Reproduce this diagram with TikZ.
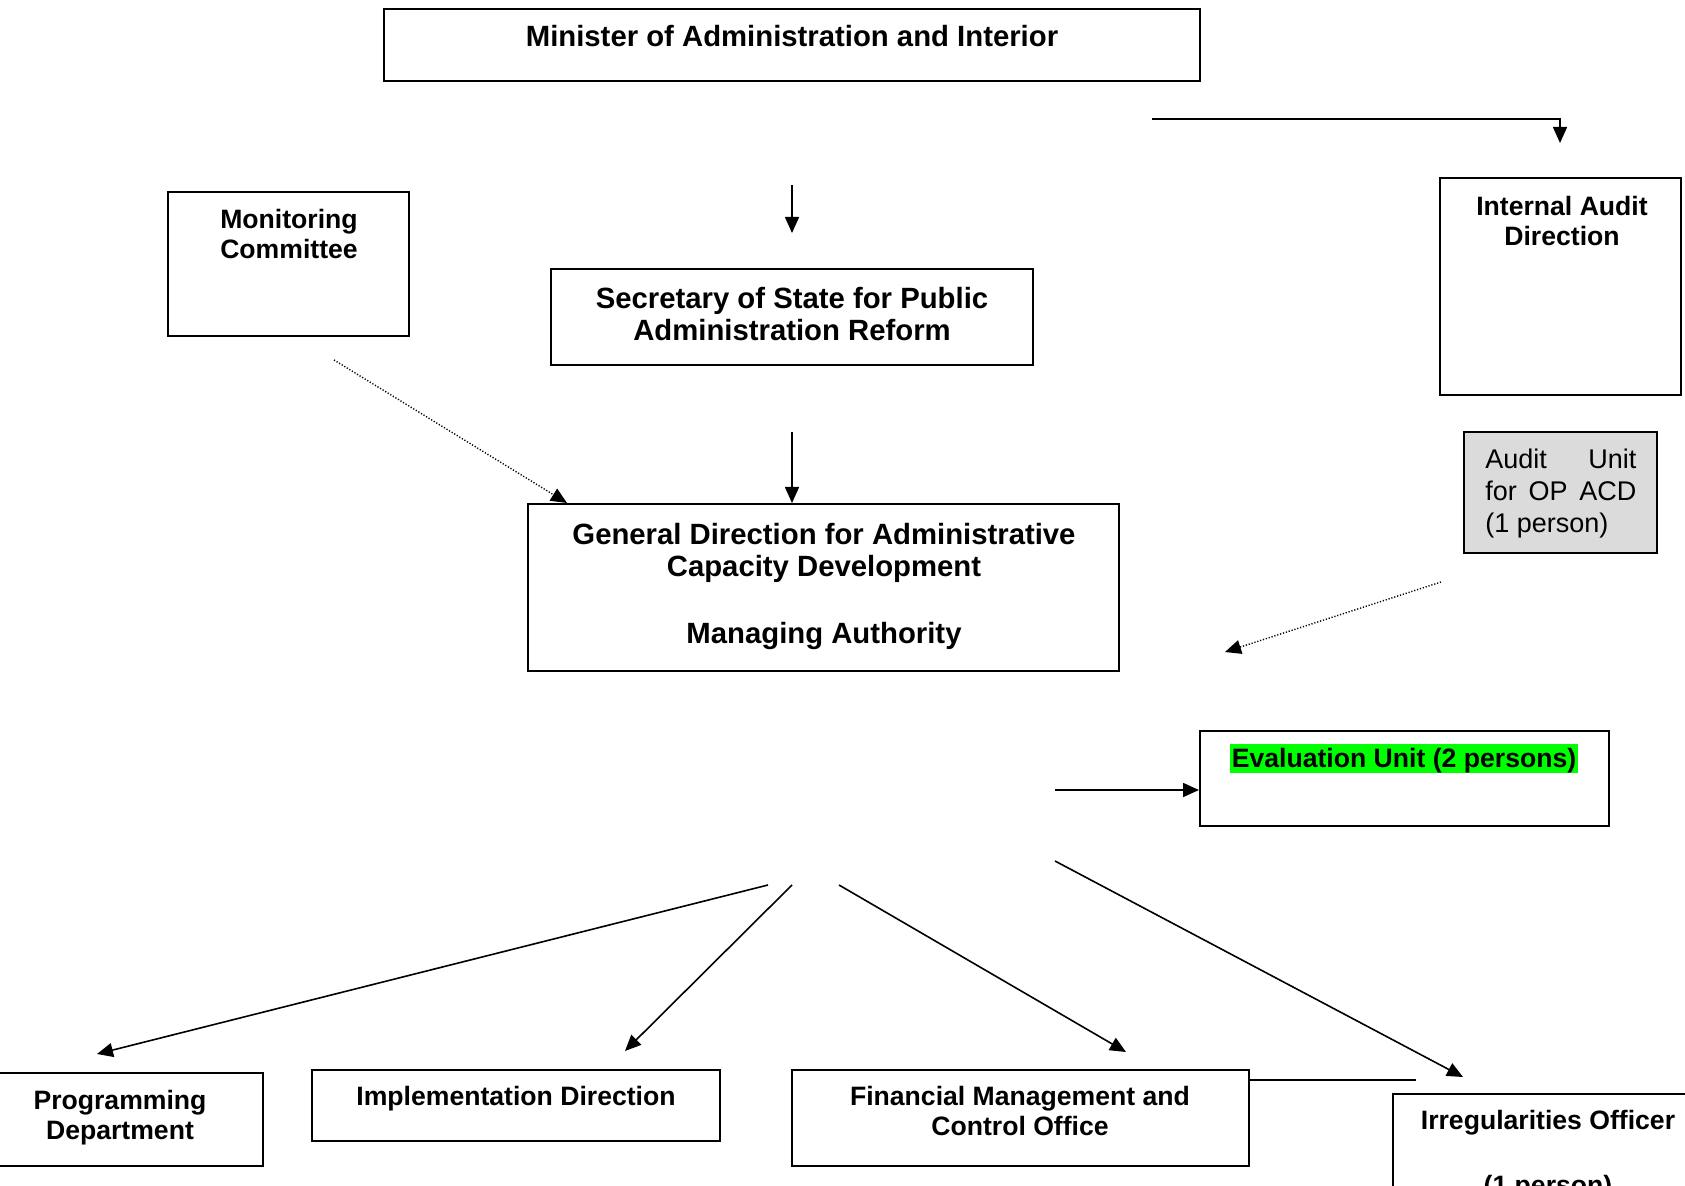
\documentclass[tikz,border=0pt]{standalone}
\usepackage{fontspec}
\setmainfont{Liberation Sans}
\usetikzlibrary{arrows.meta,fit}
\begin{document}
\begin{tikzpicture}[x=0.5pt,y=-0.5pt,
  box/.style={draw=black, line width=1pt, inner sep=0pt},
  big/.style={font=\fontsize{14.65}{16}\selectfont\bfseries, align=center, anchor=base, inner sep=0pt},
  small/.style={font=\fontsize{13.3}{15}\selectfont\bfseries, align=center, anchor=base, inner sep=0pt},
  arr/.style={line width=0.8pt, -{Triangle[length=8pt,width=7pt]}},
  dotarr/.style={line width=0.7pt, dash pattern=on 0.6pt off 0.9pt, -{Triangle[length=8pt,width=7pt]}},
  plain/.style={line width=0.8pt}]
\clip (0,0) rectangle (1685,1186);
\fill[white] (0,0) rectangle (1685,1186);

% boxes
\node[box, fit={(384,8.6) (1200,80.6)}] (min) {};
\node[box, fit={(168,192) (409,336)}] (mon) {};
\node[box, fit={(551,269) (1033,365)}] (sec) {};
\node[box, fit={(1440,178) (1681,395)}] (iad) {};
\node[box, fill=gray!28, fit={(1464,432) (1657,553)}] (au) {};
\node[box, fit={(528,504) (1119,671)}] (gd) {};
\node[box, fit={(1200,731) (1609,826)}] (ev) {};
\node[box, fit={(-5,1073) (263,1166)}] (prog) {};
\node[box, fit={(312,1070) (720,1141)}] (impl) {};
\node[box, fit={(792,1070) (1249,1166)}] (fin) {};
\node[box, fit={(1393,1094) (1700,1200)}] (irr) {};

% texts (anchor = baseline of last line)
\node[big] (tmin) at (792,47) {Minister of Administration and Interior};
\node[small] (tmon) at (289,258.5) {Monitoring\\Committee};
\node[big] (tsec) at (792,340.5) {Secretary of State for Public\\Administration Reform};
\node[small] (tiad) at (1562,245.5) {Internal Audit\\Direction};
\node[anchor=base west, inner sep=0pt, font=\fontsize{13.5}{16}\selectfont, align=left] (tau) at (1485,532.5)
  {\hbox to 75.5pt{Audit\hfill Unit}\\\hbox to 75.5pt{for\hfill OP\hfill ACD}\\(1 person)};
\node[big] (tgd) at (824,643.5) {General Direction for Administrative\\Capacity Development\\[17.5pt]Managing Authority};
\node[small, fill={rgb,255:red,0;green,255;blue,0}, inner xsep=1pt, inner ysep=0pt, text height=11.6pt, text depth=2.7pt] (tev) at (1404,767.5) {Evaluation Unit (2 persons)};
\node[small] (tprog) at (120,1139.5) {Programming\\Department};
\node[small] (timpl) at (516,1105.5) {Implementation Direction};
\node[small] (tfin) at (1020,1135.5) {Financial Management and\\Control Office};
\node[small] (tirr) at (1548,1194) {Irregularities Officer\\[17.2pt](1 person)};

% connector ends
\coordinate (c1) at (1152,119);
\coordinate (c2) at (1560,143);
\coordinate (c3) at (792,185);
\coordinate (c4) at (792,233);
\coordinate (c5) at (334,360);
\coordinate (c6) at (567,503);
\coordinate (c7) at (792,432);
\coordinate (c8) at (792,503);
\coordinate (c9) at (1441,582);
\coordinate (c10) at (1225,652);
\coordinate (c11) at (1055,790);
\coordinate (d1) at (768,885);
\coordinate (d1e) at (97,1054);
\coordinate (d2) at (792,885);
\coordinate (d2e) at (625,1051);
\coordinate (d3) at (839,885);
\coordinate (d3e) at (1126,1052);
\coordinate (d4) at (1055,861);
\coordinate (d4e) at (1463,1077);
\coordinate (f1) at (1416,1080);

% connectors
\draw[arr] (c1) -| (c2);
\draw[arr] (c3) -- (c4);
\draw[dotarr] (c5) -- (c6);
\draw[arr] (c7) -- (c8);
\draw[dotarr] (c9) -- (c10);
\draw[arr] (c11) -- (ev.west |- c11);
\draw[arr] (d1) -- (d1e);
\draw[arr] (d2) -- (d2e);
\draw[arr] (d3) -- (d3e);
\draw[arr] (d4) -- (d4e);
\draw[plain] (fin.east |- f1) -- (f1);
\end{tikzpicture}
\end{document}
